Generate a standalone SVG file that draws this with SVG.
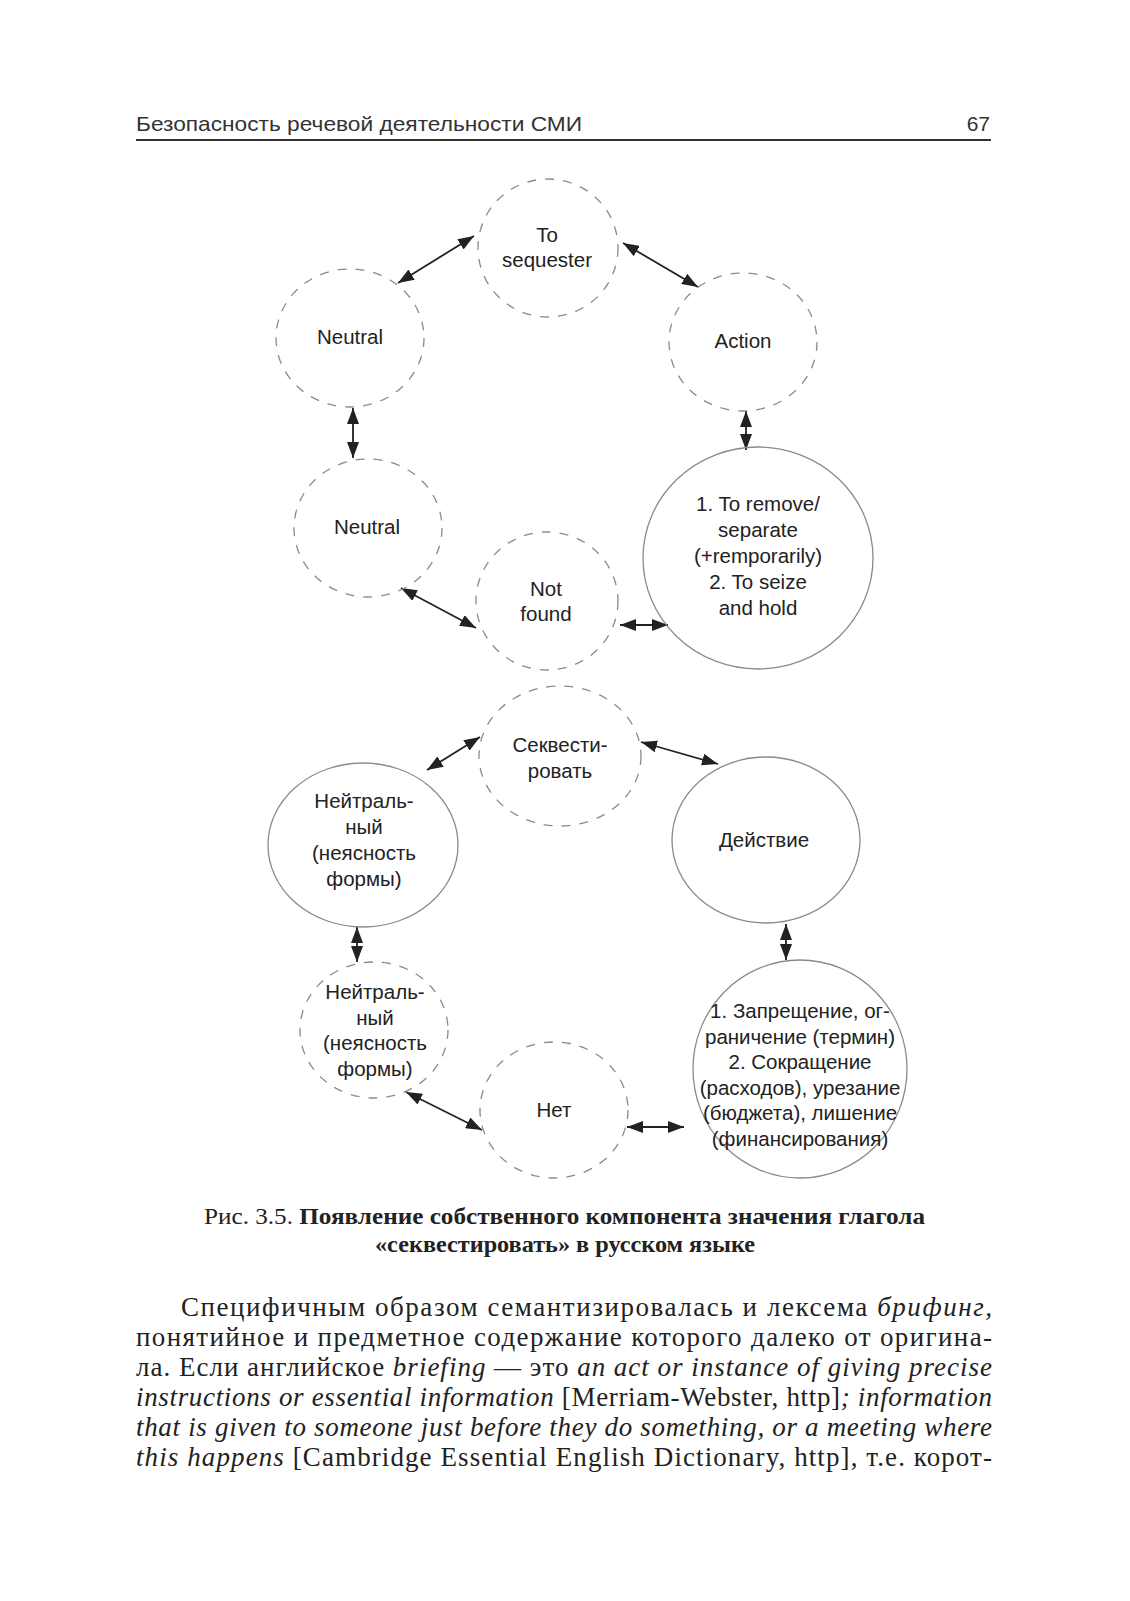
<svg xmlns="http://www.w3.org/2000/svg" width="1130" height="1601" viewBox="0 0 1130 1601">
<style>
.bg{fill:#fff}
.dash{fill:none;stroke:#8a8a8a;stroke-width:1.3;stroke-dasharray:9 9}
.solid{fill:none;stroke:#8a8a8a;stroke-width:1.3}
.lbl{font-family:"Liberation Sans",Arial,sans-serif;font-size:20.5px;fill:#222;text-anchor:middle}
.arr{stroke:#222;stroke-width:1.8;fill:none;marker-start:url(#ah);marker-end:url(#ah)}
.body{font-family:"Liberation Serif","Times New Roman",serif;font-size:27px;fill:#222}
.it{font-style:italic}
.cap{font-family:"Liberation Serif","Times New Roman",serif;font-size:23px;fill:#222}
.hdr{font-family:"Liberation Sans",Arial,sans-serif;font-size:21px;fill:#333}
</style>
<defs>
<marker id="ah" viewBox="0 0 16 12" refX="16" refY="6" markerUnits="userSpaceOnUse" markerWidth="16" markerHeight="12" orient="auto-start-reverse">
<path d="M0,0 L16,6 L0,12 z" fill="#222"/>
</marker>
</defs>
<rect class="bg" x="0" y="0" width="1130" height="1601"/>

<g id="header">
<text class="hdr" x="136" y="131" textLength="446" lengthAdjust="spacingAndGlyphs">Безопасность речевой деятельности СМИ</text>
<text class="hdr" x="990" y="131" text-anchor="end">67</text>
<line x1="136" y1="140" x2="991" y2="140" stroke="#333" stroke-width="2"/>
</g>

<g id="connectors">
<line class="arr" x1="398" y1="283" x2="474" y2="236"/>
<line class="arr" x1="623" y1="243" x2="698" y2="287"/>
<line class="arr" x1="353" y1="408" x2="353" y2="458"/>
<line class="arr" x1="746" y1="411" x2="746" y2="450"/>
<line class="arr" x1="401" y1="588" x2="476" y2="628"/>
<line class="arr" x1="620" y1="625" x2="668" y2="625"/>

<line class="arr" x1="427" y1="770" x2="480" y2="737"/>
<line class="arr" x1="641" y1="742" x2="718" y2="764"/>
<line class="arr" x1="357" y1="927" x2="357" y2="962"/>
<line class="arr" x1="786" y1="924" x2="786" y2="960"/>
<line class="arr" x1="406" y1="1092" x2="482" y2="1130"/>
<line class="arr" x1="627" y1="1127" x2="684" y2="1127"/>
</g>

<g id="n-sequester">
<ellipse class="dash" cx="548" cy="248" rx="70" ry="69"/>
<text class="lbl" x="547" y="242">To</text>
<text class="lbl" x="547" y="267">sequester</text>
</g>
<g id="n-neutral1">
<ellipse class="dash" cx="350" cy="338" rx="74" ry="69"/>
<text class="lbl" x="350" y="344">Neutral</text>
</g>
<g id="n-action">
<ellipse class="dash" cx="743" cy="342" rx="74" ry="69"/>
<text class="lbl" x="743" y="348">Action</text>
</g>
<g id="n-neutral2">
<ellipse class="dash" cx="368" cy="528" rx="74" ry="69"/>
<text class="lbl" x="367" y="534">Neutral</text>
</g>
<g id="n-notfound">
<ellipse class="dash" cx="547" cy="601" rx="71" ry="69"/>
<text class="lbl" x="546" y="596">Not</text>
<text class="lbl" x="546" y="621">found</text>
</g>
<g id="n-meaning-en">
<ellipse class="solid" cx="758" cy="558" rx="115" ry="111"/>
<text class="lbl" x="758" y="511">1. To remove/</text>
<text class="lbl" x="758" y="537">separate</text>
<text class="lbl" x="758" y="563">(+remporarily)</text>
<text class="lbl" x="758" y="589">2. To seize</text>
<text class="lbl" x="758" y="615">and hold</text>
</g>

<g id="n-sekvestirovat">
<ellipse class="dash" cx="560" cy="756" rx="81" ry="70"/>
<text class="lbl" x="560" y="752">Секвести-</text>
<text class="lbl" x="560" y="778">ровать</text>
</g>
<g id="n-neitralny1">
<ellipse class="solid" cx="363" cy="845" rx="95" ry="82"/>
<text class="lbl" x="364" y="808">Нейтраль-</text>
<text class="lbl" x="364" y="834">ный</text>
<text class="lbl" x="364" y="860">(неясность</text>
<text class="lbl" x="364" y="886">формы)</text>
</g>
<g id="n-deistvie">
<ellipse class="solid" cx="766" cy="840" rx="94" ry="83"/>
<text class="lbl" x="764" y="847">Действие</text>
</g>
<g id="n-neitralny2">
<ellipse class="dash" cx="374" cy="1030" rx="74" ry="68"/>
<text class="lbl" x="375" y="999">Нейтраль-</text>
<text class="lbl" x="375" y="1025">ный</text>
<text class="lbl" x="375" y="1050">(неясность</text>
<text class="lbl" x="375" y="1076">формы)</text>
</g>
<g id="n-net">
<ellipse class="dash" cx="554" cy="1110" rx="74" ry="68"/>
<text class="lbl" x="554" y="1117">Нет</text>
</g>
<g id="n-meaning-ru">
<ellipse class="solid" cx="800" cy="1069" rx="107" ry="109"/>
<text class="lbl" x="800" y="1018">1. Запрещение, ог-</text>
<text class="lbl" x="800" y="1044">раничение (термин)</text>
<text class="lbl" x="800" y="1069">2. Сокращение</text>
<text class="lbl" x="800" y="1095">(расходов), урезание</text>
<text class="lbl" x="800" y="1120">(бюджета), лишение</text>
<text class="lbl" x="800" y="1146">(финансирования)</text>
</g>

<g id="caption">
<text class="cap" x="204" y="1224" textLength="721" lengthAdjust="spacingAndGlyphs">Рис. 3.5. <tspan font-weight="bold">Появление собственного компонента значения глагола</tspan></text>
<text class="cap" x="565" y="1252" text-anchor="middle" font-weight="bold" textLength="380" lengthAdjust="spacingAndGlyphs">«секвестировать» в русском языке</text>
</g>

<g id="body">
<text class="body" x="181" y="1316" textLength="811" lengthAdjust="spacing">Специфичным образом семантизировалась и лексема <tspan class="it">брифинг,</tspan></text>
<text class="body" x="136" y="1346" textLength="856" lengthAdjust="spacing">понятийное и предметное содержание которого далеко от оригина-</text>
<text class="body" x="136" y="1376" textLength="856" lengthAdjust="spacing">ла. Если английское <tspan class="it">briefing</tspan> — это <tspan class="it">an act or instance of giving precise</tspan></text>
<text class="body" x="136" y="1406" textLength="856" lengthAdjust="spacing"><tspan class="it">instructions or essential information</tspan> [Merriam-Webster, http]<tspan class="it">; information</tspan></text>
<text class="body" x="136" y="1436" textLength="856" lengthAdjust="spacing"><tspan class="it">that is given to someone just before they do something, or a meeting where</tspan></text>
<text class="body" x="136" y="1466" textLength="856" lengthAdjust="spacing"><tspan class="it">this happens</tspan> [Cambridge Essential English Dictionary, http], т.е. корот-</text>
</g>
</svg>
